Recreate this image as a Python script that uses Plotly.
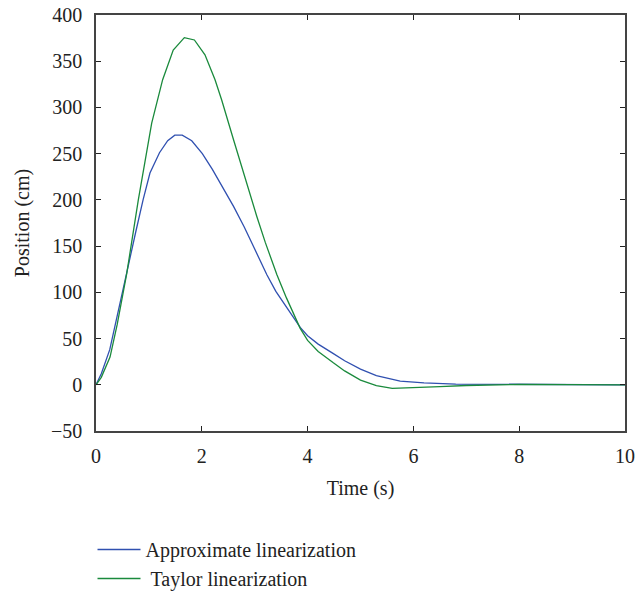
import plotly.graph_objects as go

# Approximate linearization (blue)
t_approx = [0, 0.1, 0.26, 0.4, 0.58, 0.75, 0.89, 1.02, 1.2, 1.355, 1.49, 1.63, 1.81, 2.01,
            2.2, 2.4, 2.6, 2.8, 3.0, 3.23, 3.4, 3.6, 3.86, 4.0, 4.2, 4.48, 4.7, 5.0, 5.3,
            5.75, 6.2, 6.8, 7.5, 8.0, 9.0, 10.0]
pos_approx = [0, 12, 38, 75, 120, 165, 200, 229, 251, 264, 270, 270, 264, 250,
              233, 213, 193, 171, 147, 119, 101, 84, 62, 53, 44, 34, 26, 17, 10,
              4, 2, 0.8, 0.5, 0.4, 0.1, 0]

# Taylor linearization (green)
t_taylor = [0, 0.1, 0.265, 0.4, 0.58, 0.8, 1.053, 1.26, 1.46, 1.67, 1.86, 2.06, 2.25, 2.376,
            2.6, 2.8, 3.04, 3.2, 3.42, 3.6, 3.86, 4.0, 4.2, 4.48, 4.7, 5.0, 5.3, 5.6, 6.0,
            6.5, 7.0, 7.5, 8.0, 9.0, 10.0]
pos_taylor = [0, 8, 30, 65, 120, 200, 283, 330, 362, 375.5, 373, 357, 330, 308,
              265, 226, 182, 154, 119, 94, 61, 48, 36, 24, 15, 5, -1, -3.8, -3.3,
              -2, -0.8, 0, 0.4, 0.2, 0]

x_ticks = [0, 2, 4, 6, 8, 10]
y_ticks = [-50, 0, 50, 100, 150, 200, 250, 300, 350, 400]

FONT = "Liberation Serif"

fig = go.Figure()
fig.add_trace(go.Scatter(x=t_approx, y=pos_approx, mode="lines",
                         name="Approximate linearization",
                         line=dict(color="#3050B0", width=1.3)))
fig.add_trace(go.Scatter(x=t_taylor, y=pos_taylor, mode="lines",
                         name="\u00a0Taylor linearization",
                         line=dict(color="#1A8A3C", width=1.3)))

axis_common = dict(showline=True, linecolor="#444444", linewidth=1.5, mirror="ticks",
                   ticks="inside", ticklen=5, tickcolor="#222222", tickwidth=1,
                   showgrid=False, zeroline=False, automargin=False,
                   ticklabeloverflow="allow",
                   tickfont=dict(family=FONT, size=20, color="#222222"))

fig.update_layout(
    width=635, height=592,
    margin=dict(l=96, r=10, t=15, b=161, autoexpand=False),
    plot_bgcolor="white", paper_bgcolor="white",
    font=dict(family=FONT, color="#222222"),
    xaxis=dict(range=[0, 10], tickvals=x_ticks, ticklabelstandoff=6,
               title=dict(text="Time (s)", font=dict(family=FONT, size=20), standoff=15),
               **axis_common),
    yaxis=dict(range=[-50, 400], tickvals=y_ticks, ticklabelstandoff=8,
               title=dict(text="Position (cm)", font=dict(family=FONT, size=20), standoff=16),
               **axis_common),
    showlegend=True,
    legend=dict(x=-0.0066, xanchor="left", y=-0.238, yanchor="top", itemwidth=43,
                font=dict(family=FONT, size=20, color="#222222"),
                bgcolor="rgba(0,0,0,0)", tracegroupgap=0),
)

# remove the default page margin so the figure fills the window exactly
fig.write_html("out.html",
               config={"displayModeBar": False},
               post_script="document.body.style.margin='0';document.body.style.overflow='hidden';")
